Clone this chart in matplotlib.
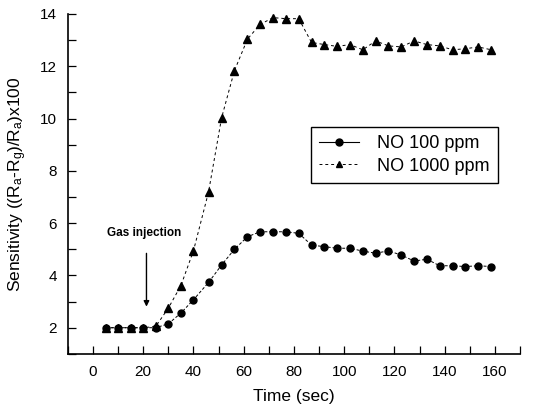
import matplotlib
matplotlib.use('Agg')
import matplotlib.pyplot as plt
from matplotlib.lines import Line2D
from matplotlib.ticker import MultipleLocator

plt.rcParams['font.family'] = ['Liberation Sans', 'DejaVu Sans']
plt.rcParams['mathtext.default'] = 'regular'

# time axis (points sit at roughly 5 s steps)
time_sec = [5, 10, 15, 20, 25, 30, 35, 40, 46, 51.2, 56.3, 61.5, 66.5, 71.7, 76.8,
            81.9, 87, 92.1, 97.2, 102.3, 107.4, 112.5, 117.6, 122.7, 127.8, 132.9,
            138, 143.1, 148.2, 153.3, 158.5]

no_100ppm = [2.0, 2.0, 2.0, 2.0, 2.0, 2.15, 2.56, 3.07, 3.73, 4.4, 5.0, 5.48, 5.67,
             5.67, 5.67, 5.61, 5.16, 5.10, 5.04, 5.04, 4.93, 4.85, 4.94, 4.78, 4.55,
             4.62, 4.37, 4.37, 4.34, 4.37, 4.34]

no_1000ppm = [2.0, 2.0, 2.0, 2.0, 2.05, 2.75, 3.61, 4.94, 7.19, 10.03, 11.83, 13.04,
              13.6, 13.86, 13.82, 13.82, 12.91, 12.83, 12.76, 12.83, 12.63, 12.97,
              12.78, 12.74, 12.97, 12.83, 12.78, 12.63, 12.67, 12.74, 12.63]

fig = plt.figure(figsize=(5.34, 4.11), dpi=100)
ax = fig.add_axes([0.127, 0.139, 0.847, 0.827])

ax.plot(time_sec, no_1000ppm, ls='--', lw=0.7, color='black', marker='^',
        ms=5.5, dashes=(3, 3), zorder=2)
ax.plot(time_sec, no_100ppm, ls='--', lw=0.7, color='black', marker='o',
        ms=5, dashes=(3, 2), zorder=3)

ax.set_xlim(-10, 170)
ax.set_ylim(1, 14)
ax.xaxis.set_major_locator(MultipleLocator(20))
ax.xaxis.set_minor_locator(MultipleLocator(10))
ax.yaxis.set_major_locator(MultipleLocator(2))
ax.yaxis.set_minor_locator(MultipleLocator(1))
ax.tick_params(which='both', direction='in', length=6, width=0.9)
ax.tick_params(axis='x', pad=8)
ax.tick_params(axis='y', pad=8)
for lbl in ax.get_xticklabels() + ax.get_yticklabels():
    lbl.set_family(['Liberation Sans Narrow', 'Liberation Sans'])
    lbl.set_fontsize(11)
for s in ['top', 'right']:
    ax.spines[s].set_visible(False)
for s in ['left', 'bottom']:
    ax.spines[s].set_linewidth(1.2)

ax.set_xlabel('Time (sec)', fontsize=12.5, labelpad=7)
ax.set_ylabel('Sensitivity ((R$_a$-R$_g$)/R$_a$)x100', fontsize=12.5, labelpad=8)

# gas injection marker
ax.annotate('', xy=(21.3, 2.7), xytext=(21.3, 4.95),
            arrowprops=dict(arrowstyle='-|>', color='black', lw=1.0, mutation_scale=8))
ax.text(20.4, 5.63, 'Gas injection', fontsize=8.5, fontweight='bold',
        ha='center', va='center')

h100 = Line2D([], [], color='black', lw=0.8, marker='o', ms=5)
h1000 = Line2D([], [], color='black', lw=0.7, ls='--', dashes=(3, 3), marker='^', ms=5)
leg = ax.legend([h100, h1000], ['NO 100 ppm', 'NO 1000 ppm'], loc='upper left',
                bbox_to_anchor=(311 / 534, 1 - 127 / 411), bbox_transform=fig.transFigure,
                fontsize=13, frameon=True, fancybox=False, edgecolor='black',
                framealpha=1, handlelength=2.2, borderpad=0.45, labelspacing=0.3,
                handletextpad=1.0, borderaxespad=0)
leg.get_frame().set_linewidth(1.0)

fig.savefig('out.png', dpi=100)
